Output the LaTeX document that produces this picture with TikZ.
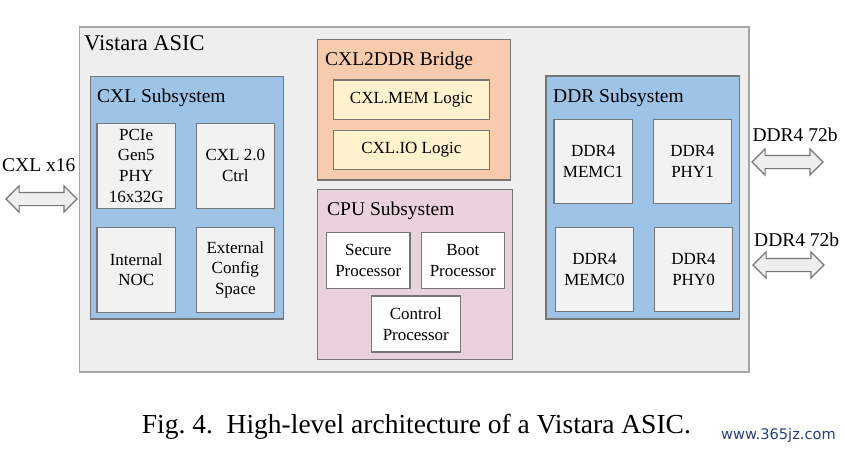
\documentclass[tikz,border=0pt]{standalone}
\usepackage{fontspec}
\setmainfont{Liberation Serif}
\usepackage{xcolor}
\usepackage{tikz}
\usetikzlibrary{shapes,arrows,positioning}

\definecolor{asicgray}{HTML}{EEEEEE}
\definecolor{asicedge}{HTML}{A6A6A6}
\definecolor{subblue}{HTML}{9DC3E6}
\definecolor{bridgeorange}{HTML}{F8CBAD}
\definecolor{logicyellow}{HTML}{FFF2CC}
\definecolor{cpupink}{HTML}{EAD1DC}
\definecolor{blockgray}{HTML}{F2F2F2}
\definecolor{edgegray}{HTML}{767676}
\definecolor{markblue}{HTML}{233F80}

\newcommand{\boxfont}{\fontsize{17}{20.6}\selectfont}
\newcommand{\titlefont}{\fontsize{19.5}{22}\selectfont}

\tikzset{
  block/.style={draw=edgegray, line width=1.2pt, fill=blockgray, align=center,
    inner sep=0pt, font=\boxfont},
  cpublock/.style={block, fill=white, minimum width=83.3, minimum height=56},
  logicblock/.style={block, fill=logicyellow, minimum width=156, minimum height=39.5},
  cxlblock/.style={block, minimum width=78.3, minimum height=85},
  title/.style={anchor=base west, inner sep=0pt, font=\titlefont},
  port/.style={double arrow, draw=edgegray, line width=1.2pt, fill=asicgray,
    double arrow head extend=6.5, inner xsep=0pt, inner ysep=6pt,
    minimum height=71},
  portlabel/.style={anchor=base west, inner sep=0pt, font=\titlefont}
}

\begin{document}
\begin{tikzpicture}[x=1pt, y=-1pt]
        \useasboundingbox (0,0) rectangle (844,451);

        % ASIC outline
        \draw[draw=asicedge, line width=1.5pt, fill=asicgray] (79.5,27) rectangle (749,372);
        \node[title, font=\fontsize{22.5}{25}\selectfont] (asic) at (84,50) {Vistara ASIC};

        % CXL subsystem
        \draw[draw=edgegray, line width=1.2pt, fill=subblue] (90.7,76.7) rectangle (283.7,319);
        \node[title] (cxlsub) at (97,102.7) {CXL Subsystem};
        \node[cxlblock] (pcie) at (136.2,165.7) {PCIe\\Gen5\\PHY\\16x32G};
        \node[cxlblock] (cxlctrl) at (235.3,165.7) {CXL 2.0\\Ctrl};
        \node[cxlblock] (noc) at (136.2,269.8) {Internal\\NOC};
        \node[cxlblock] (config) at (235.3,269.8) {External\\Config\\Space};

        % CXL2DDR bridge
        \draw[draw=edgegray, line width=1.2pt, fill=bridgeorange] (317.3,39.3) rectangle (510.7,180);
        \node[title] (bridge) at (325,65) {CXL2DDR Bridge};
        \node[logicblock] (memlogic) at (411.3,99.7) {CXL.MEM Logic};
        \node[logicblock] (iologic) at (411.3,150) {CXL.IO Logic};

        % CPU subsystem
        \draw[draw=edgegray, line width=1.2pt, fill=cpupink] (317.3,189.3) rectangle (512.3,359.3);
        \node[title] (cpusub) at (327,215.7) {CPU Subsystem};
        \node[cpublock] (secure) at (368.3,260.3) {Secure\\Processor};
        \node[cpublock] (boot) at (462.8,260.3) {Boot\\Processor};
        \node[cpublock, minimum width=89] (control) at (415.8,324) {Control\\Processor};

        % DDR subsystem
        \draw[draw=edgegray, line width=1.2pt, fill=subblue] (546,76) rectangle (739.3,319);
        \node[title] (ddrsub) at (553,102.7) {DDR Subsystem};
        \node[cxlblock, minimum height=84] (memc1) at (593.2,161.3) {DDR4\\MEMC1};
        \node[cxlblock, minimum height=84] (phy1) at (692.5,161.3) {DDR4\\PHY1};
        \node[cxlblock, minimum height=84] (memc0) at (594.5,269.7) {DDR4\\MEMC0};
        \node[cxlblock, minimum height=84] (phy0) at (693.5,269.7) {DDR4\\PHY0};

        % External interfaces
        \node[port] (cxlport) at (41.5,199) {};
        \node[portlabel] (cxllbl) at (2,171) {CXL x16};
        \node[port] (ddrport1) at (787.5,162) {};
        \node[portlabel] (ddrlbl1) at (752.3,141.7) {DDR4 72b};
        \node[port] (ddrport0) at (788.5,265) {};
        \node[portlabel] (ddrlbl0) at (754,246.7) {DDR4 72b};

        % Caption
        \node[anchor=base west, inner sep=0pt, font=\fontsize{27.5}{30}\selectfont] (caption) at (141.7,433.3)
            {Fig.~4.\enspace High-level architecture of a Vistara ASIC.};
        \node[anchor=base west, inner sep=0pt, text=markblue,
            font=\fontspec{DejaVu Sans}\fontsize{14.6}{16}\selectfont] (mark) at (721,439) {www.365jz.com};
    \end{tikzpicture}
\end{document}
